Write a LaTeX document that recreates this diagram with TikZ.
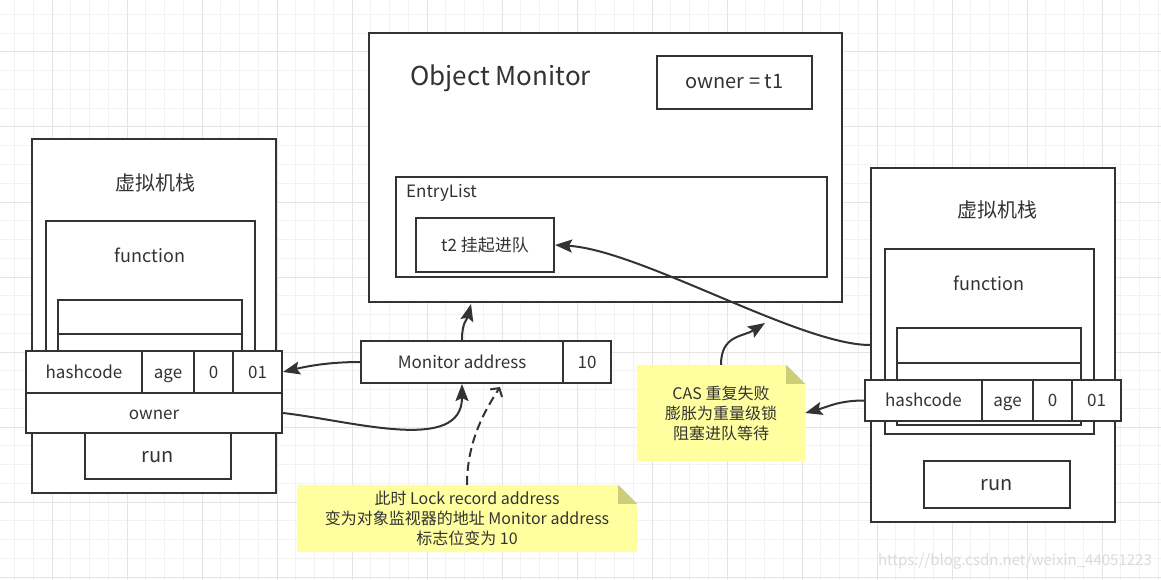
\documentclass[tikz,border=0pt]{standalone}
\usepackage{fontspec}
\setmainfont{Noto Sans CJK SC}
\usepackage{tikz}
\usetikzlibrary{arrows.meta}
\definecolor{ink}{RGB}{51,51,51}
\definecolor{notefill}{RGB}{255,255,160}
\definecolor{notefold}{RGB}{205,205,122}
\definecolor{gridminor}{RGB}{242,242,242}
\definecolor{gridmajor}{RGB}{228,228,228}
\newcommand{\txt}[1]{\fontsize{#1}{20}\selectfont}
\tikzstyle{box} = [draw=ink, line width=2pt, fill=white, inner sep=0pt, text=ink, text height=13pt, text depth=1pt]
\tikzstyle{lbl} = [inner sep=0pt, text=ink]
\tikzstyle{notebox} = [inner sep=0pt]
\tikzstyle{conn} = [draw=ink, line width=2pt, -{Stealth[length=17pt,width=13pt,inset=3pt]}]
\tikzstyle{hint} = [draw=ink, line width=2pt, dash pattern=on 9pt off 5pt, -{Straight Barb[length=6pt,width=14pt]}]

\begin{document}
\begin{tikzpicture}[x=1pt,y=-1pt]
	\useasboundingbox (0,0) rectangle (1161,580);
	\fill[white] (0,0) rectangle (1161,580);
	\foreach \k in {0,...,61}
		\draw[gridminor, line width=1pt] ({14.5+18.75*\k},0) -- ({14.5+18.75*\k},580);
	\foreach \k in {0,...,30}
		\draw[gridminor, line width=1pt] (0,{14.5+18.75*\k}) -- (1161,{14.5+18.75*\k});
	\foreach \k in {0,...,15}
		\draw[gridmajor, line width=1pt] ({52+75*\k},0) -- ({52+75*\k},580);
	\foreach \k in {0,...,7}
		\draw[gridmajor, line width=1pt] (0,{52+75*\k}) -- (1161,{52+75*\k});
	\node[lbl, font=\txt{15}, text=black!14, anchor=east] (mark) at (1152,561) {https://blog.csdn.net/weixin\_44051223};

	% left stack
	\node[box, minimum width=244pt, minimum height=354pt] (lstack) at (154,316) {};
	\node[lbl, font=\txt{20}] (ltitle) at (155,183) {虚拟机栈};
	\node[box, minimum width=209pt, minimum height=159pt] (lfunc) at (150.5,300.5) {};
	\node[lbl, font=\txt{18}] (lfname) at (150,255) {function};
	\node[box, minimum width=184pt, minimum height=34pt] (lslotA) at (150,317) {};
	\node[box, minimum width=184pt, minimum height=36pt] (lslotB) at (150,352) {};
	\node[box, minimum width=116pt, minimum height=42pt, font=\txt{17}] (lhash) at (84,372) {hashcode};
	\node[box, minimum width=52pt, minimum height=42pt, font=\txt{17}] (lage) at (168,372) {age};
	\node[box, minimum width=39pt, minimum height=42pt, font=\txt{17}] (lbias) at (213.5,372) {0};
	\node[box, minimum width=49pt, minimum height=42pt, font=\txt{17}] (lflag) at (257.5,372) {01};
	\node[box, minimum width=256pt, minimum height=40pt, font=\txt{17}] (lowner) at (154,413) {owner};
	\node[box, minimum width=146pt, minimum height=46pt, font=\txt{20}] (lrun) at (158,456) {run};

	% right stack
	\node[box, minimum width=244pt, minimum height=354pt] (rstack) at (993,345) {};
	\node[lbl, font=\txt{20}] (rtitle) at (997,210) {虚拟机栈};
	\node[box, minimum width=209pt, minimum height=185pt] (rfunc) at (989.5,341.5) {};
	\node[lbl, font=\txt{18}] (rfname) at (989,283) {function};
	\node[box, minimum width=184pt, minimum height=35pt] (rslotA) at (989,345.5) {};
	\node[box, minimum width=184pt, minimum height=62pt] (rslotB) at (989,394) {};
	\node[box, minimum width=117pt, minimum height=41pt, font=\txt{17}] (rhash) at (923.5,400.5) {hashcode};
	\node[box, minimum width=51pt, minimum height=41pt, font=\txt{17}] (rage) at (1007.5,400.5) {age};
	\node[box, minimum width=39pt, minimum height=41pt, font=\txt{17}] (rbias) at (1052.5,400.5) {0};
	\node[box, minimum width=49pt, minimum height=41pt, font=\txt{17}] (rflag) at (1096.5,400.5) {01};
	\node[box, minimum width=146pt, minimum height=47pt, font=\txt{20}] (rrun) at (997,484.5) {run};

	% object monitor
	\node[box, minimum width=473pt, minimum height=269pt] (mon) at (605.5,167.5) {};
	\node[lbl, font=\txt{26}, anchor=west] (montitle) at (410,78) {Object Monitor};
	\node[box, minimum width=155pt, minimum height=53pt, font=\txt{20}] (owner) at (734.5,82.5) {owner = t1};
	\node[box, minimum width=431pt, minimum height=100pt] (entry) at (611.5,227) {};
	\node[lbl, font=\txt{17}, anchor=west] (entrytitle) at (406,193) {EntryList};
	\node[box, minimum width=138pt, minimum height=54pt, font=\txt{17}] (t2) at (485,245) {t2 挂起进队};

	% monitor address
	\node[box, minimum width=202pt, minimum height=42pt, font=\txt{17}] (maddr) at (462,362) {Monitor address};
	\node[box, minimum width=48pt, minimum height=42pt, font=\txt{17}] (mflag) at (587,362) {10};

	% notes
	\node[notebox, minimum width=340pt, minimum height=67pt] (note1) at (467,518.5) {};
	\node[notebox, minimum width=168pt, minimum height=96pt] (note2) at (721,413) {};
	\foreach \n in {note1,note2} {
		\fill[notefill] (\n.south west) -- (\n.north west) -- ([xshift=-19pt]\n.north east)
			-- ([yshift=-19pt]\n.north east) -- (\n.south east) -- cycle;
		\fill[notefold] ([xshift=-19pt]\n.north east) -- ([yshift=-19pt]\n.north east)
			-- ([xshift=-19pt,yshift=-19pt]\n.north east) -- cycle;
	}
	\node[lbl, align=center, font=\txt{16}] (note1txt) at (note1) {此时 Lock record address\\变为对象监视器的地址 Monitor address\\标志位变为 10};
	\node[lbl, align=center, font=\txt{16}] (note2txt) at (note2) {CAS 重复失败\\膨胀为重量级锁\\阻塞进队等待};

	% connectors
	\coordinate (monin) at (471,304);
	\coordinate (hintend) at (500,387);
	\coordinate (casend) at (765,323);
	\draw[conn] (maddr.west) .. controls +(-30,0) and +(25,-6) .. (lflag.east);
	\draw[conn] (lowner.east) .. controls +(70,8) and +(0,70) .. (maddr.south);
	\draw[conn] (maddr.north) .. controls +(0,-18) and +(-4,16) .. (monin);
	\draw[hint] (note1.north) .. controls +(0,-45) and +(-14,22) .. (hintend);
	\draw[conn] (rstack.west) .. controls (800,345) and (640,250) .. (t2.east);
	\draw[conn] (note2.north) .. controls +(0,-30) and +(-22,14) .. (casend);
	\draw[conn] (rhash.west) .. controls +(-25,0) and +(22,-6) .. (note2.east);
\end{tikzpicture}
\end{document}
